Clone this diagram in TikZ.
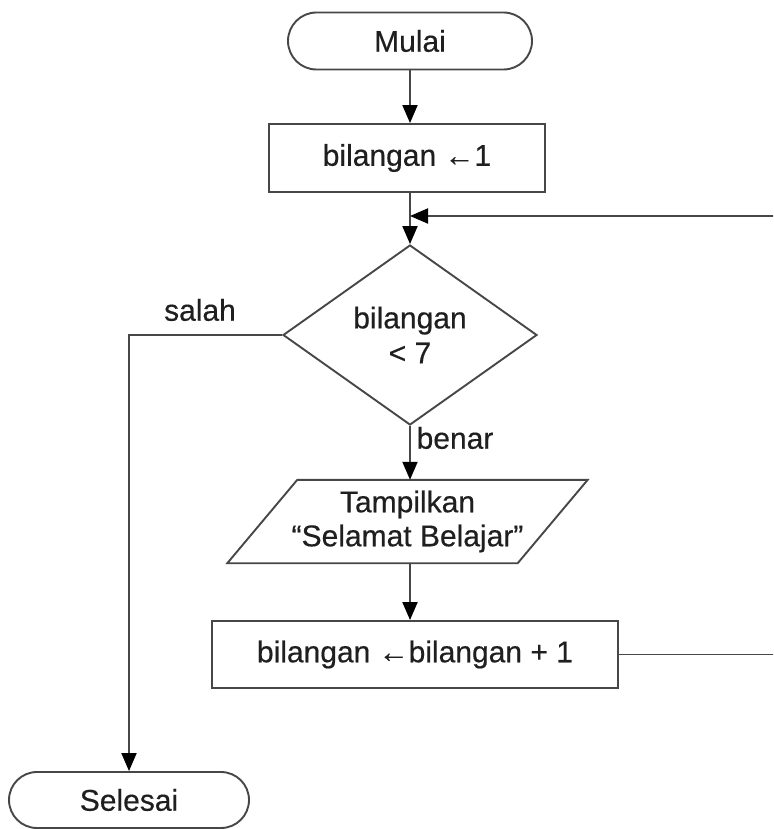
\documentclass[tikz,border=0pt]{standalone}
\usepackage{fontspec}
\setmainfont{Liberation Sans}[FakeBold=0.4]
\usetikzlibrary{shapes.geometric,shapes.misc,arrows.meta,calc}

\begin{document}
\begin{tikzpicture}[x=1pt,y=-1pt,
  txt/.style={font=\fontsize{30}{36}\selectfont, text=black!88},
  line/.style={draw=black!72, line width=1.9pt},
  arr/.style={line, -{Triangle[length=18pt,width=15pt,color=black]}},
  box/.style={txt, line, fill=white, rectangle, inner sep=0pt},
  terminal/.style={txt, line, fill=white, rounded rectangle, inner sep=0pt,
    minimum width=244pt, minimum height=57pt},
  decision/.style={txt, line, fill=white, diamond, aspect=1.41, inner sep=0pt,
    align=center, minimum width=254pt, minimum height=180pt},
  iotext/.style={txt, rectangle, inner sep=0pt, align=center,
    minimum width=290pt, minimum height=83pt},
  label/.style={txt}]
  \useasboundingbox (0,0) rectangle (773,829);
  \clip (0,0) rectangle (773,829);

  % flowchart blocks
  \node[terminal] (mulai) at (410,41) {Mulai};
  \node[box, minimum width=276pt, minimum height=68pt] (init) at (407,158) {bilangan ←1};
  \node[decision] (cond) at (410,335) {bilangan\\[-1pt]< 7};
  \node[iotext] (out) at (407.5,521.5) {Tampilkan\\[-2pt]“Selamat Belajar”};
  % parallelogram outline of the output block, slanted 35pt each way
  \draw[line] ($(out.north west)+(35,0)$) -- ($(out.north east)+(35,0)$)
    -- ($(out.south east)+(-35,0)$) -- ($(out.south west)+(-35,0)$) -- cycle;
  \node[box, minimum width=406pt, minimum height=67pt] (inc) at (415,654.5) {bilangan ←bilangan + 1};
  \node[terminal, minimum width=240pt, minimum height=56pt] (selesai) at (129,800) {Selesai};

  % branch labels
  \node[label] (salah) at (200,310) {salah};
  \node[label] (benar) at (455,438) {benar};

  % loop-back route along the right margin
  \coordinate (back) at (790,216);

  % connectors
  \draw[arr] (mulai.south) -- (mulai.south |- init.north);
  \draw[arr] (mulai.south |- init.south) -- (mulai.south |- cond.north);
  \draw[arr] (cond.south) -- (cond.south |- out.north);
  \draw[arr] (cond.south |- out.south) -- (cond.south |- inc.north);
  \draw[arr] (cond.west) -| (selesai.north);
  \draw[arr] (inc.east) -| (back) -- (cond.north |- back);
\end{tikzpicture}
\end{document}
